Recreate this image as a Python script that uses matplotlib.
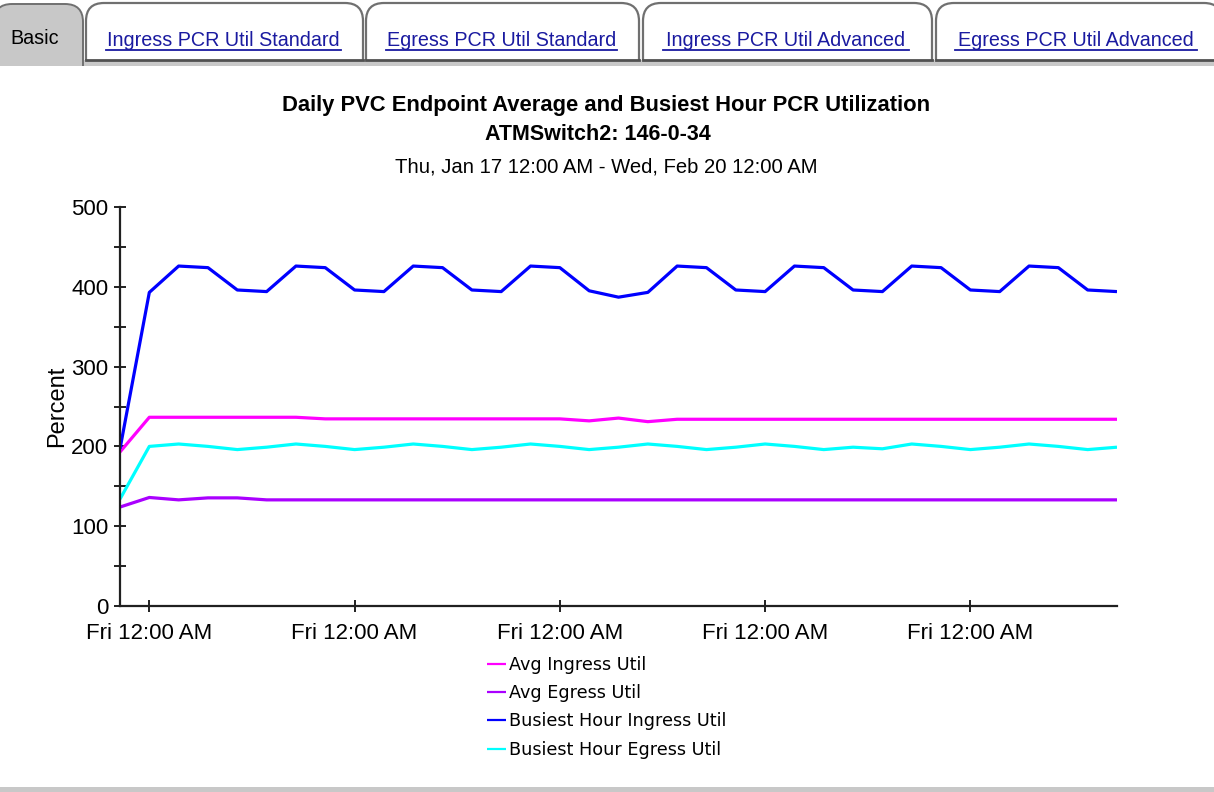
import matplotlib
matplotlib.use("Agg")
import matplotlib.pyplot as plt
import matplotlib.dates as mdates
from matplotlib.path import Path
from matplotlib.patches import PathPatch, Rectangle
from matplotlib import font_manager
import pandas as pd

# ---------------- data ----------------
start_date = "2002-01-17"
n_days = 35
dates = pd.date_range(start_date, periods=n_days, freq="D")

avg_ingress = [193, 236.5, 236.5, 236.5, 236.5, 236.5, 236.5, 234.5, 234.5, 234.5,
               234.5, 234.5, 234.5, 234.5, 234.5, 234.5, 232, 235.5, 231, 234,
               234, 234, 234, 234, 234, 234, 234, 234, 234, 234,
               234, 234, 234, 234, 234]
avg_egress = [124, 136, 133, 135.5, 135.5, 133, 133, 133, 133, 133,
              133, 133, 133, 133, 133, 133, 133, 133, 133, 133,
              133, 133, 133, 133, 133, 133, 133, 133, 133, 133,
              133, 133, 133, 133, 133]
busy_ingress = [197, 393, 426, 424, 396, 394, 426, 424, 396, 394,
                426, 424, 396, 394, 426, 424, 395, 387, 393, 426,
                424, 396, 394, 426, 424, 396, 394, 426, 424, 396,
                394, 426, 424, 396, 394]
busy_egress = [134, 200, 203, 200, 196, 199, 203, 200, 196, 199,
               203, 200, 196, 199, 203, 200, 196, 199, 203, 200,
               196, 199, 203, 200, 196, 199, 197, 203, 200, 196,
               199, 203, 200, 196, 199]

series_labels = ["Avg Ingress Util", "Avg Egress Util",
                 "Busiest Hour Ingress Util", "Busiest Hour Egress Util"]
series_colors = ["#ff00ff", "#aa00ff", "#0000ff", "#00ffff"]

tab_labels = ["Basic", "Ingress PCR Util Standard", "Egress PCR Util Standard",
              "Ingress PCR Util Advanced", "Egress PCR Util Advanced"]

title = "Daily PVC Endpoint Average and Busiest Hour PCR Utilization"
subtitle = "ATMSwitch2: 146-0-34"
date_range_text = "Thu, Jan 17 12:00 AM - Wed, Feb 20 12:00 AM"
y_label = "Percent"

# ---------------- fonts ----------------
avail = {f.name for f in font_manager.fontManager.ttflist}
SANS = "Liberation Sans" if "Liberation Sans" in avail else "DejaVu Sans"
plt.rcParams["font.family"] = [SANS, "DejaVu Sans"]

W, H = 1214, 792
fig = plt.figure(figsize=(W / 100, H / 100), dpi=100)
fig.patch.set_facecolor("white")

# background / decoration axes in pixel coords
bg = fig.add_axes([0, 0, 1, 1], zorder=0)
bg.set_xlim(0, W)
bg.set_ylim(H, 0)
bg.axis("off")


def tab_path(x0, x1, ytop, ybot, r):
    verts = [(x0, ybot), (x0, ytop + r), (x0, ytop), (x0 + r, ytop),
             (x1 - r, ytop), (x1, ytop), (x1, ytop + r), (x1, ybot)]
    codes = [Path.MOVETO, Path.LINETO, Path.CURVE3, Path.CURVE3,
             Path.LINETO, Path.CURVE3, Path.CURVE3, Path.LINETO]
    return Path(verts, codes)


# gray strip under tabs and at bottom
bg.add_patch(Rectangle((0, 60), W, 6, facecolor="#c8c8c8", edgecolor="none"))
bg.add_patch(Rectangle((0, 787), W, 6, facecolor="#c8c8c8", edgecolor="none"))

tab_x = [(-6, 83), (86, 363), (366, 639), (643, 932), (936, 1222)]
underlines = {1: (106, 341), 2: (386, 617), 3: (663, 909), 4: (955, 1197)}
for i, ((x0, x1), lab) in enumerate(zip(tab_x, tab_labels)):
    if i == 0:
        p = tab_path(x0, x1, 4, 66, 18)
        bg.add_patch(PathPatch(p, facecolor="#c8c8c8", edgecolor="#707070", lw=1.4))
        bg.text(35, 38, lab, ha="center", va="center",
                fontsize=14.2, color="black", family=SANS)
    else:
        p = tab_path(x0, x1, 3, 60, 18)
        bg.add_patch(PathPatch(p, facecolor="white", edgecolor="#707070", lw=1.6))
        bg.plot([x0, x1], [60, 60], color="#505050", lw=2)
        u0, u1 = underlines[i]
        bg.text((u0 + u1) / 2, 40, lab, ha="center", va="center",
                fontsize=14.2, color="#1a1aa0", family=SANS)
        bg.plot([u0, u1], [50, 50], color="#1a1aa0", lw=1.3)

# titles
bg.text(606, 106, title, ha="center", va="center", fontsize=15.8,
        fontweight="bold", family=SANS)
bg.text(598, 135, subtitle, ha="center", va="center", fontsize=15.5,
        fontweight="bold", family=SANS)
bg.text(606, 167, date_range_text, ha="center", va="center", fontsize=14.6,
        family=SANS)

# ---------------- main chart ----------------
ax = fig.add_axes([120 / W, 1 - 606 / H, (1117 - 120) / W, (606 - 207) / H], zorder=2)
ax.patch.set_alpha(0)

all_series = [avg_ingress, avg_egress, busy_ingress, busy_egress]
lines = []
for vals, lab, col in zip(all_series, series_labels, series_colors):
    (ln,) = ax.plot(dates, vals, color=col, lw=2.3, label=lab,
                    solid_joinstyle="round", solid_capstyle="butt")
    lines.append(ln)

ax.set_xlim(dates[0], dates[-1])
ax.set_ylim(0, 500)
ax.set_yticks([0, 100, 200, 300, 400, 500])
ax.set_yticks([50, 150, 250, 350, 450], minor=True)
ax.xaxis.set_major_locator(mdates.WeekdayLocator(byweekday=mdates.FR))
ax.xaxis.set_major_formatter(mdates.DateFormatter("%a %I:%M %p"))

for s in ["top", "right"]:
    ax.spines[s].set_visible(False)
for s in ["left", "bottom"]:
    ax.spines[s].set_linewidth(1.6)
    ax.spines[s].set_color("#202020")

ax.tick_params(axis="y", which="both", direction="inout", length=9, width=1.4,
               labelsize=16, pad=4, color="#202020")
ax.tick_params(axis="x", which="both", direction="inout", length=9, width=1.4,
               labelsize=16, pad=8, color="#202020")
ax.set_ylabel(y_label, fontsize=17, labelpad=2)

fig.legend(handles=lines, labels=series_labels, loc="upper left",
           bbox_to_anchor=(487 / W, 1 - 656 / H), frameon=False,
           prop={"family": "DejaVu Sans", "size": 12.7},
           handlelength=1.05, handletextpad=0.2, labelspacing=0.58,
           borderaxespad=0, borderpad=0)
for lh in fig.legends[0].get_lines():
    lh.set_linewidth(1.6)

fig.savefig("out.png", dpi=100)
